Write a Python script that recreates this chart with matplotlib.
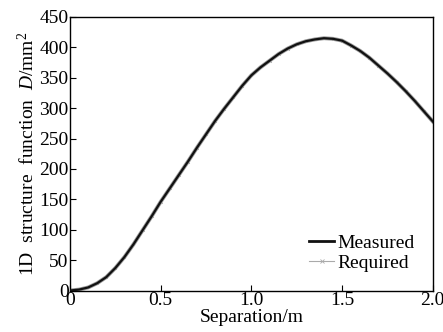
import matplotlib
matplotlib.use("Agg")
import matplotlib.pyplot as plt
from matplotlib.lines import Line2D

separation = [0, 0.05, 0.1, 0.15, 0.2, 0.25, 0.3, 0.35, 0.4, 0.45, 0.5, 0.55, 0.6,
              0.65, 0.7, 0.75, 0.8, 0.85, 0.9, 0.95, 1.0, 1.05, 1.1, 1.15, 1.2,
              1.25, 1.3, 1.35, 1.4, 1.45, 1.5, 1.55, 1.6, 1.65, 1.7, 1.75, 1.8,
              1.85, 1.9, 1.95, 2.0]
measured = [0, 1.5, 5, 12, 22, 37, 55, 76, 99, 122, 146, 168, 190,
            212, 235, 257, 279, 299, 318, 337, 354, 367, 378, 389, 398,
            405, 410, 413, 415, 414, 411, 403, 394, 383, 370, 357, 343,
            328, 312, 295, 278]
required = [0, 1.5, 5, 12, 22, 37, 55, 76, 99, 122, 146, 168, 190,
            212, 235, 257, 279, 299, 318, 337, 354, 367, 378, 389, 398,
            405, 410, 413, 415, 414, 411, 403, 394, 383, 370, 357, 343,
            328, 312, 295, 278]
xticks = [0, 0.5, 1.0, 1.5, 2.0]
xticklabels = ["0", "0.5", "1.0", "1.5", "2.0"]
yticks = [0, 50, 100, 150, 200, 250, 300, 350, 400, 450]

plt.rcParams['font.family'] = ['Liberation Serif', 'DejaVu Serif']
plt.rcParams['mathtext.fontset'] = 'custom'
plt.rcParams['mathtext.it'] = 'Liberation Serif:italic'
plt.rcParams['mathtext.rm'] = 'Liberation Serif'

fig = plt.figure(figsize=(4.43, 3.32), dpi=100)
ax = fig.add_axes([0.158, 0.125, 0.819, 0.824])
ax.plot(separation, required, color='#9a9a9a', lw=2.8, marker='x', ms=2,
        mew=0.5, label='Required', zorder=2)
ax.plot(separation, measured, color='#111111', lw=1.6, label='Measured', zorder=3)
ax.set_xlim(0, 2.0)
ax.set_ylim(0, 450)
ax.set_xticks(xticks)
ax.set_xticklabels(xticklabels)
ax.set_yticks(yticks)
ax.tick_params(direction='in', length=4, labelsize=14, top=False, right=False, pad=1)
for s in ax.spines.values():
    s.set_linewidth(1.0)
ax.set_xlabel('Separation/m', fontsize=14, labelpad=0)
ax.set_ylabel('1D  structure  function  $D$/mm$^2$', fontsize=14, labelpad=1)
hm = Line2D([], [], color='#111111', lw=2.0)
hr = Line2D([], [], color='#aaaaaa', lw=0.8, marker='x', ms=2.5, mew=0.6)
ax.legend([hm, hr], ['Measured', 'Required'], loc='lower right', frameon=False,
          fontsize=14, handlelength=1.3, handletextpad=0.15, borderaxespad=0.55,
          labelspacing=0.15)
fig.savefig('out.png', dpi=100)
